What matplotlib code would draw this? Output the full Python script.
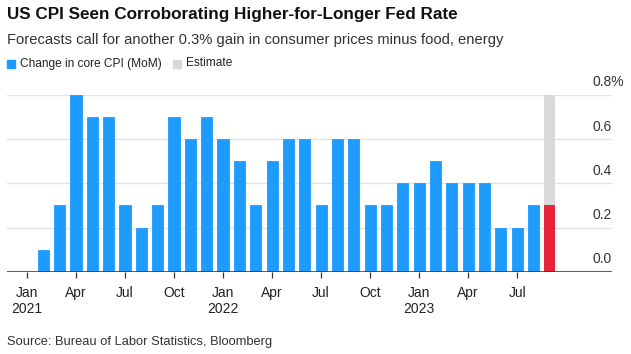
import matplotlib.pyplot as plt
from matplotlib.patches import Rectangle
import matplotlib.transforms as mtransforms

plt.rcParams['font.family'] = ['Liberation Sans', 'DejaVu Sans']

# Data: monthly change in core CPI (MoM, %), Jan 2021 - Aug 2023, plus Sep 2023 estimate
months = ['Jan', 'Feb', 'Mar', 'Apr', 'May', 'Jun', 'Jul', 'Aug', 'Sep', 'Oct', 'Nov', 'Dec']
core_cpi = [0.0, 0.1, 0.3, 0.8, 0.7, 0.7, 0.3, 0.2, 0.3, 0.7, 0.6, 0.7,
            0.6, 0.5, 0.3, 0.5, 0.6, 0.6, 0.3, 0.6, 0.6, 0.3, 0.3, 0.4,
            0.4, 0.5, 0.4, 0.4, 0.4, 0.2, 0.2, 0.3]
estimate = 0.3
estimate_range = 0.8
start_year = 2021

blue = '#1e9bff'
red = '#e8233c'
grey = '#d9d9d9'

fig = plt.figure(figsize=(6.31, 3.54), dpi=100)
ax = fig.add_axes([7/631, 1-271.7/354, 605/631, (271.7-95)/354])

n = len(core_cpi)
x = list(range(n))
ax.bar(x, core_cpi, width=0.68, color=blue, edgecolor=blue, linewidth=0.6, zorder=3)
ax.bar([n], [estimate_range], width=0.68, color=grey, zorder=2)
ax.bar([n], [estimate], width=0.68, color=red, zorder=3)

ax.set_xlim(-1.22, 35.8)
ax.set_ylim(0, 0.8)

# gridlines
for v in [0.2, 0.4, 0.6, 0.8]:
    ax.axhline(v, color='#e2e2e2', lw=1, zorder=1)
ax.axhline(0, color='#333333', lw=1.1, zorder=4)

# y labels on right, above gridlines
trans = mtransforms.blended_transform_factory(ax.transAxes, ax.transData)
offset = mtransforms.ScaledTranslation(0, 4/72, fig.dpi_scale_trans)
for v in [0.0, 0.2, 0.4, 0.6, 0.8]:
    lab = f'{v:.1f}%' if v == 0.8 else f'{v:.1f}'
    ax.text(0.967, v, lab, transform=trans + offset, ha='left', va='bottom',
            fontsize=10, color='#333333')

for s in ax.spines.values():
    s.set_visible(False)
ax.set_yticks([])

ticks = list(range(0, n, 3))
labels = []
for t in ticks:
    m = months[t % 12]
    if t % 12 == 0:
        labels.append(f'{m}\n{start_year + t // 12}')
    else:
        labels.append(m)
ax.set_xticks(ticks)
ax.set_xticklabels(labels, fontsize=10, color='#222222', linespacing=1.25, va='top')
ax.tick_params(axis='x', length=4, width=0.9, color='#333333', pad=6)

# titles
fig.text(7/631, 1-14/354, 'US CPI Seen Corroborating Higher-for-Longer Fed Rate',
         fontsize=12.3, fontweight='bold', va='center', ha='left', color='#111111')
fig.text(7/631, 1-40/354, 'Forecasts call for another 0.3% gain in consumer prices minus food, energy',
         fontsize=10.6, va='center', ha='left', color='#333333')

# legend
fig.patches.append(Rectangle((7/631, 1-68/354), 8/631, 8/354, transform=fig.transFigure,
                             color=blue, figure=fig))
fig.text(20/631, 1-63.5/354, 'Change in core CPI (MoM)', fontsize=8.6, va='center', color='#222222')
fig.patches.append(Rectangle((173/631, 1-68/354), 8/631, 8/354, transform=fig.transFigure,
                             color=grey, figure=fig))
fig.text(186/631, 1-63.5/354, 'Estimate', fontsize=8.6, va='center', color='#222222')

fig.text(7/631, 1-342/354, 'Source: Bureau of Labor Statistics, Bloomberg',
         fontsize=9.3, va='center', ha='left', color='#333333')

fig.savefig('out.png', dpi=100)
